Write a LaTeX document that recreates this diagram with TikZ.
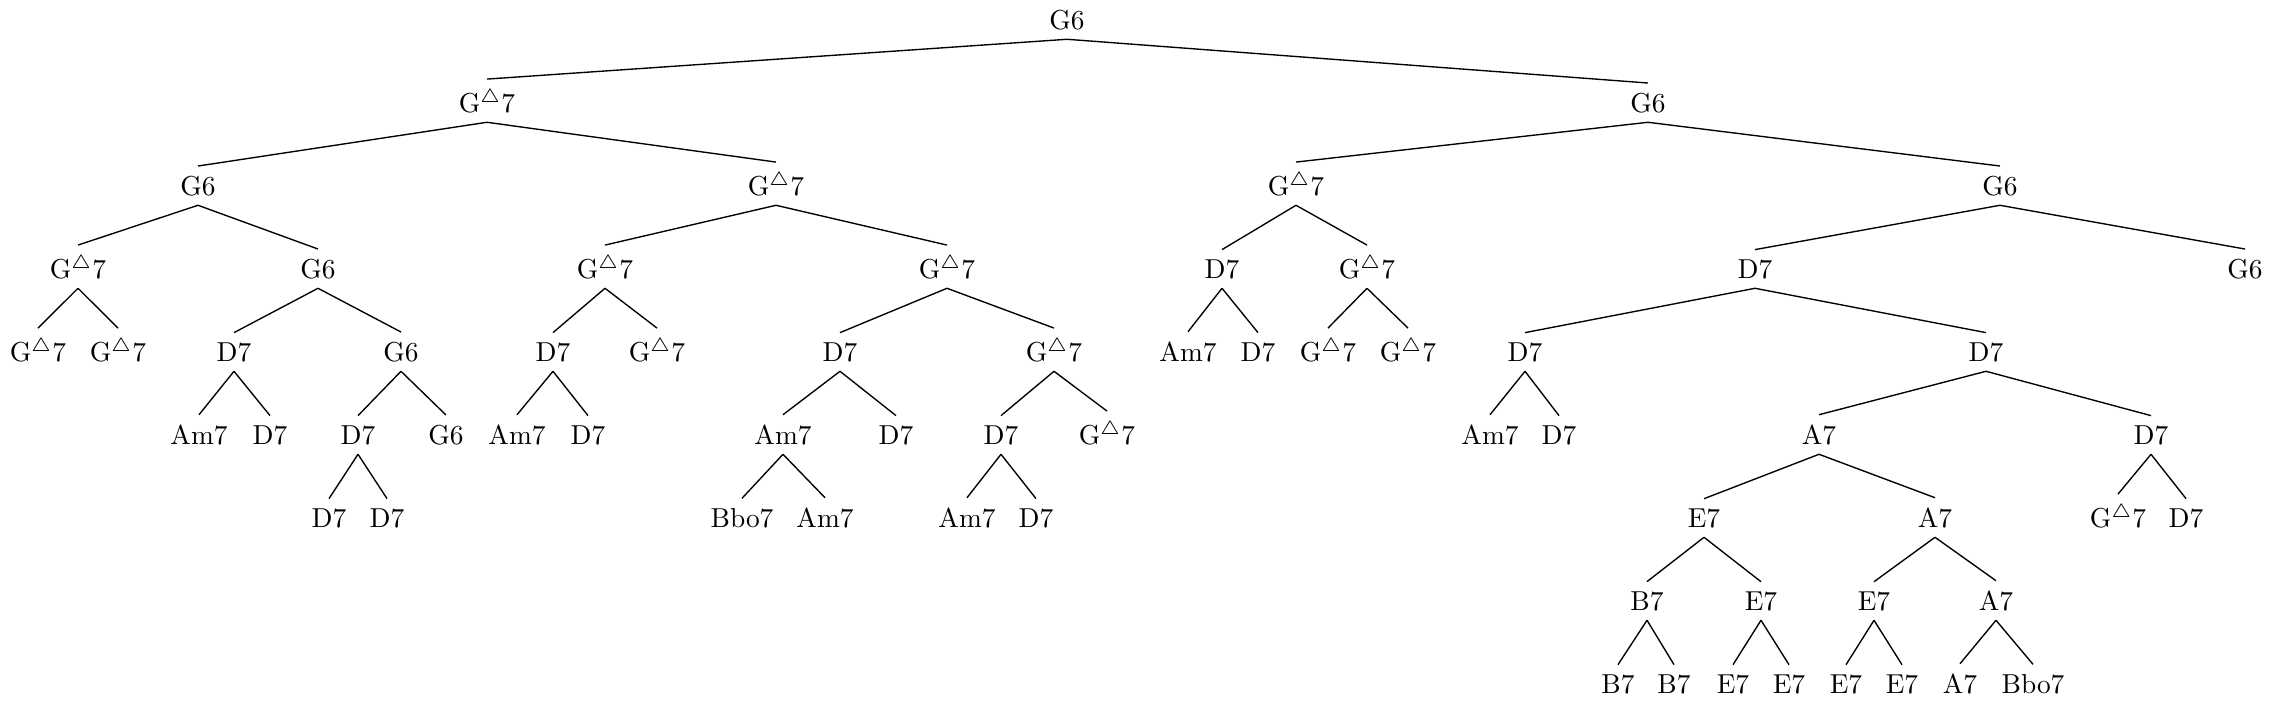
\documentclass[tikz,border=0pt]{standalone}
\newcommand\GMaj{G$^{\triangle}$7}
\begin{document}
\begin{tikzpicture}[x=0.365pt,y=-0.365pt,
  chord/.style={anchor=base,inner sep=3.33pt},
  branch/.style={line width=0.5pt}]
\useasboundingbox (0,0) rectangle (2273,702);
% level 0
\node[chord] (r) at (1067,29) {G6};
% level 1
\node[chord] (a) at (487,112) {\GMaj};
\node[chord] (b) at (1648,112) {G6};
% level 2
\node[chord] (aa) at (198,195) {G6};
\node[chord] (ab) at (776,195) {\GMaj};
\node[chord] (ba) at (1296,195) {\GMaj};
\node[chord] (bb) at (2000,195) {G6};
% level 3
\node[chord] (aaa) at (78,278) {\GMaj};
\node[chord] (aab) at (318,278) {G6};
\node[chord] (aba) at (605,278) {\GMaj};
\node[chord] (abb) at (947,278) {\GMaj};
\node[chord] (baa) at (1222,278) {D7};
\node[chord] (bab) at (1367,278) {\GMaj};
\node[chord] (bba) at (1755,278) {D7};
\node[chord] (bbb) at (2245,278) {G6};
% level 4
\node[chord] (aaaa) at (38,361) {\GMaj};
\node[chord] (aaab) at (118,361) {\GMaj};
\node[chord] (aaba) at (234,361) {D7};
\node[chord] (aabb) at (401,361) {G6};
\node[chord] (abaa) at (553,361) {D7};
\node[chord] (abab) at (657,361) {\GMaj};
\node[chord] (abba) at (840,361) {D7};
\node[chord] (abbb) at (1054,361) {\GMaj};
\node[chord] (baaa) at (1188,361) {Am7};
\node[chord] (baab) at (1258,361) {D7};
\node[chord] (baba) at (1328,361) {\GMaj};
\node[chord] (babb) at (1408,361) {\GMaj};
\node[chord] (bbaa) at (1525,361) {D7};
\node[chord] (bbab) at (1986,361) {D7};
% level 5
\node[chord] (aabaa) at (199,444) {Am7};
\node[chord] (aabab) at (270,444) {D7};
\node[chord] (aabba) at (358,444) {D7};
\node[chord] (aabbb) at (446,444) {G6};
\node[chord] (abaaa) at (517,444) {Am7};
\node[chord] (abaab) at (588,444) {D7};
\node[chord] (abbaa) at (783,444) {Am7};
\node[chord] (abbab) at (896,444) {D7};
\node[chord] (abbba) at (1001,444) {D7};
\node[chord] (abbbb) at (1107,444) {\GMaj};
\node[chord] (bbaaa) at (1490,444) {Am7};
\node[chord] (bbaab) at (1559,444) {D7};
\node[chord] (bbaba) at (1819,444) {A7};
\node[chord] (bbabb) at (2151,444) {D7};
% level 6
\node[chord] (aabbaa) at (329,527) {D7};
\node[chord] (aabbab) at (387,527) {D7};
\node[chord] (abbaaa) at (742,527) {Bbo7};
\node[chord] (abbaab) at (825,527) {Am7};
\node[chord] (abbbaa) at (967,527) {Am7};
\node[chord] (abbbab) at (1036,527) {D7};
\node[chord] (bbabaa) at (1704,527) {E7};
\node[chord] (bbabab) at (1935,527) {A7};
\node[chord] (bbabba) at (2118,527) {\GMaj};
\node[chord] (bbabbb) at (2186,527) {D7};
% level 7
\node[chord] (bbabaaa) at (1647,610) {B7};
\node[chord] (bbabaab) at (1761,610) {E7};
\node[chord] (bbababa) at (1874,610) {E7};
\node[chord] (bbababb) at (1996,610) {A7};
% level 8
\node[chord] (bbabaaaa) at (1618,693) {B7};
\node[chord] (bbabaaab) at (1674,693) {B7};
\node[chord] (bbabaaba) at (1733,693) {E7};
\node[chord] (bbabaabb) at (1789,693) {E7};
\node[chord] (bbababaa) at (1846,693) {E7};
\node[chord] (bbababab) at (1902,693) {E7};
\node[chord] (bbababba) at (1960,693) {A7};
\node[chord] (bbababbb) at (2033,693) {Bbo7};
% edges
\foreach \p/\c in {r/a,r/b,
  a/aa,a/ab,b/ba,b/bb,
  aa/aaa,aa/aab,ab/aba,ab/abb,ba/baa,ba/bab,bb/bba,bb/bbb,
  aaa/aaaa,aaa/aaab,aab/aaba,aab/aabb,aba/abaa,aba/abab,abb/abba,abb/abbb,
  baa/baaa,baa/baab,bab/baba,bab/babb,bba/bbaa,bba/bbab,
  aaba/aabaa,aaba/aabab,aabb/aabba,aabb/aabbb,abaa/abaaa,abaa/abaab,
  abba/abbaa,abba/abbab,abbb/abbba,abbb/abbbb,bbaa/bbaaa,bbaa/bbaab,
  bbab/bbaba,bbab/bbabb,
  aabba/aabbaa,aabba/aabbab,abbaa/abbaaa,abbaa/abbaab,abbba/abbbaa,abbba/abbbab,
  bbaba/bbabaa,bbaba/bbabab,bbabb/bbabba,bbabb/bbabbb,
  bbabaa/bbabaaa,bbabaa/bbabaab,bbabab/bbababa,bbabab/bbababb,
  bbabaaa/bbabaaaa,bbabaaa/bbabaaab,bbabaab/bbabaaba,bbabaab/bbabaabb,
  bbababa/bbababaa,bbababa/bbababab,bbababb/bbababba,bbababb/bbababbb}
  \draw[branch] (\p.south) -- (\c.north);
\end{tikzpicture}
\end{document}
